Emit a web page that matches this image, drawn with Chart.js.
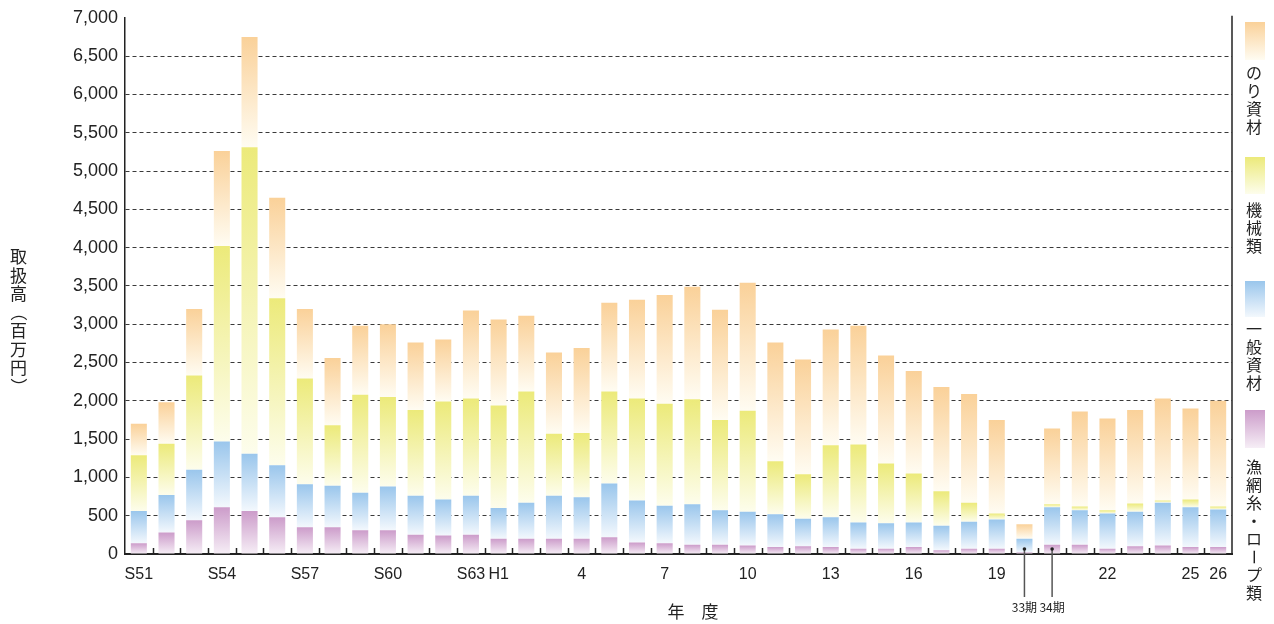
<!DOCTYPE html>
<html lang="ja">
<head>
<meta charset="utf-8">
<title>取扱高の推移</title>
<script src="https://cdn.jsdelivr.net/npm/chart.js@4.4.1/dist/chart.umd.min.js"></script>
<style>
  html, body { margin: 0; padding: 0; background: #fff; }
  #wrap { width: 1274px; height: 624px; position: relative; }
</style>
</head>
<body>
<div id="wrap"><canvas id="salesChart"></canvas></div>
<script>
// 年度 (S51〜H19, 33期, 34期, H21〜H26)
const years = ['S51','S52','S53','S54','S55','S56','S57','S58','S59','S60','S61','S62','S63',
  'H1','H2','H3','H4','H5','H6','H7','H8','H9','H10','H11','H12','H13','H14','H15','H16','H17','H18','H19',
  '33期','34期','H21','H22','H23','H24','H25','H26'];
const tickLabels = ['S51','','','S54','','','S57','','','S60','','','S63',
  'H1','','','4','','','7','','','10','','','13','','','16','','','19',
  '','','','22','','','25','26'];

// 百万円 (下から積み上げ)
const netRope  = [140,280,440,610,560,480,350,350,310,310,250,240,250,200,200,200,200,220,150,140,120,120,110,90,100,90,70,70,90,50,70,70,20,120,120,70,100,110,90,90];
const general  = [420,490,660,860,750,680,560,540,490,570,510,470,510,400,470,560,540,700,550,490,530,450,440,430,360,390,340,330,320,320,350,380,180,490,450,460,450,560,520,490];
const machines = [730,670,1230,2550,4000,2180,1380,790,1280,1170,1120,1280,1270,1340,1450,810,840,1200,1330,1330,1370,1180,1320,690,580,940,1020,780,640,450,250,80,0,40,50,40,110,30,100,40];
const nori     = [410,540,870,1240,1440,1310,910,880,900,950,880,810,1150,1120,990,1060,1110,1160,1290,1420,1470,1440,1670,1550,1500,1510,1550,1410,1340,1360,1420,1220,190,990,1240,1200,1220,1330,1190,1380];

const seriesNames = ['漁網糸・ロープ類', '一般資材', '機械類', 'のり資材'];
const noteIndex = [32, 33];
const noteText = ['33期', '34期'];
const yTitle = '取扱高（百万円）';
const xTitle = '年　度';

// 色 (上端 → 下端)
const colors = [
  ['#cc9cca', '#f6eef6'],
  ['#9ac6ec', '#f3f8fd'],
  ['#ecea7a', '#fdfdec'],
  ['#fad199', '#fffcf2']
];
const latin = "'Liberation Sans', Arial, sans-serif";
const cjk = "'Noto Sans CJK JP', sans-serif";

function segmentFill(top, bottom) {
  return function(c) {
    const chart = c.chart, y = chart.scales.y;
    if (c.type !== 'data' || !y) return top;
    const i = c.dataIndex, d = c.datasetIndex;
    let base = 0;
    for (let k = 0; k < d; k++) base += chart.data.datasets[k].data[i];
    const v = chart.data.datasets[d].data[i];
    const y0 = y.getPixelForValue(base + v), y1 = y.getPixelForValue(base);
    if (!isFinite(y0) || !isFinite(y1) || y1 - y0 < 1) return top;
    const g = chart.ctx.createLinearGradient(0, y0, 0, y1);
    g.addColorStop(0, top);
    g.addColorStop(1, bottom);
    return g;
  };
}

// 縦書き (長音と括弧は90度回転)
function drawColumn(ctx, text, x, y, step, font) {
  ctx.font = font;
  ctx.textAlign = 'center';
  ctx.textBaseline = 'middle';
  Array.from(text).forEach((ch, k) => {
    const cy = y + k * step;
    if ('ー（）'.includes(ch)) {
      ctx.save();
      ctx.translate(x, cy);
      ctx.rotate(Math.PI / 2);
      ctx.fillText(ch, 0, 0);
      ctx.restore();
    } else {
      ctx.fillText(ch, x, cy);
    }
  });
}

const decor = {
  id: 'decor',
  afterDraw(chart) {
    const { ctx, chartArea: a, scales: { x } } = chart;
    ctx.save();
    ctx.strokeStyle = '#222';
    ctx.lineWidth = 1.5;
    // 右枠
    ctx.beginPath();
    ctx.moveTo(a.right, a.top - 2);
    ctx.lineTo(a.right, a.bottom);
    ctx.stroke();
    // 内向き目盛
    for (let i = 1; i < years.length; i++) {
      const px = Math.round((x.getPixelForValue(i - 1) + x.getPixelForValue(i)) / 2) + 0.5;
      ctx.beginPath();
      ctx.moveTo(px, a.bottom);
      ctx.lineTo(px, a.bottom - 6);
      ctx.stroke();
    }
    // 33期・34期
    ctx.fillStyle = '#222';
    noteIndex.forEach((idx, k) => {
      const px = x.getPixelForValue(idx);
      ctx.strokeStyle = '#555';
      ctx.lineWidth = 1.5;
      ctx.beginPath();
      ctx.moveTo(px, a.bottom - 5);
      ctx.lineTo(px, a.bottom + 43);
      ctx.stroke();
      ctx.beginPath();
      ctx.arc(px, a.bottom - 5, 1.8, 0, Math.PI * 2);
      ctx.fill();
      ctx.font = '12px ' + cjk;
      ctx.textAlign = 'center';
      ctx.textBaseline = 'middle';
      ctx.fillText(noteText[k], px, a.bottom + 53);
    });
    // 軸タイトル
    ctx.fillStyle = '#222';
    drawColumn(ctx, yTitle, 18.5, 257, 18.5, '17px ' + cjk);
    ctx.font = '17px ' + cjk;
    ctx.textAlign = 'center';
    ctx.textBaseline = 'middle';
    ctx.fillText(xTitle, 693, 612);
    // 凡例 (上から のり資材 → 漁網糸・ロープ類)
    const swatch = [[22, 38], [157, 37], [281, 36], [410, 38]];
    const textTop = [73, 210, 329, 467];
    for (let n = 0; n < 4; n++) {
      const d = 3 - n;
      const [sy, sh] = swatch[n];
      const g = ctx.createLinearGradient(0, sy, 0, sy + sh);
      g.addColorStop(0, colors[d][0]);
      g.addColorStop(1, colors[d][1]);
      ctx.fillStyle = g;
      ctx.fillRect(1245, sy, 20, sh);
      ctx.fillStyle = '#222';
      drawColumn(ctx, seriesNames[d], 1254, textTop[n], 18, '16px ' + cjk);
    }
    ctx.restore();
  }
};

const datasets = [netRope, general, machines, nori].map((data, d) => ({
  label: seriesNames[d],
  data: data,
  backgroundColor: segmentFill(colors[d][0], colors[d][1]),
  borderWidth: 0,
  barPercentage: 0.58,
  categoryPercentage: 1
}));

new Chart(document.getElementById('salesChart'), {
  type: 'bar',
  data: { labels: years, datasets: datasets },
  plugins: [decor],
  options: {
    responsive: true,
    maintainAspectRatio: false,
    animation: false,
    events: [],
    layout: { padding: { top: 17, right: 42, bottom: 0, left: 0 } },
    plugins: { legend: { display: false }, tooltip: { enabled: false } },
    scales: {
      x: {
        stacked: true,
        offset: true,
        afterFit: s => { s.height = 70; },
        grid: { display: false, drawTicks: false },
        border: { display: true, color: '#222', width: 2 },
        ticks: {
          autoSkip: false,
          maxRotation: 0,
          padding: 11,
          color: '#222',
          font: { family: latin, size: 16 },
          callback: (v, i) => tickLabels[i]
        }
      },
      y: {
        stacked: true,
        min: 0,
        max: 7000,
        afterFit: s => { s.width = 125; },
        grid: {
          drawTicks: false,
          lineWidth: 1,
          color: c => (c.tick && (c.tick.value === 0 || c.tick.value === 7000)) ? 'rgba(0,0,0,0)' : '#3a3a3a'
        },
        border: { display: true, color: '#222', width: 1.5, dash: [4, 3] },
        ticks: {
          stepSize: 500,
          padding: 7,
          color: '#222',
          font: { family: latin, size: 18 },
          callback: v => v.toLocaleString('en-US')
        }
      }
    }
  }
});
</script>
</body>
</html>
